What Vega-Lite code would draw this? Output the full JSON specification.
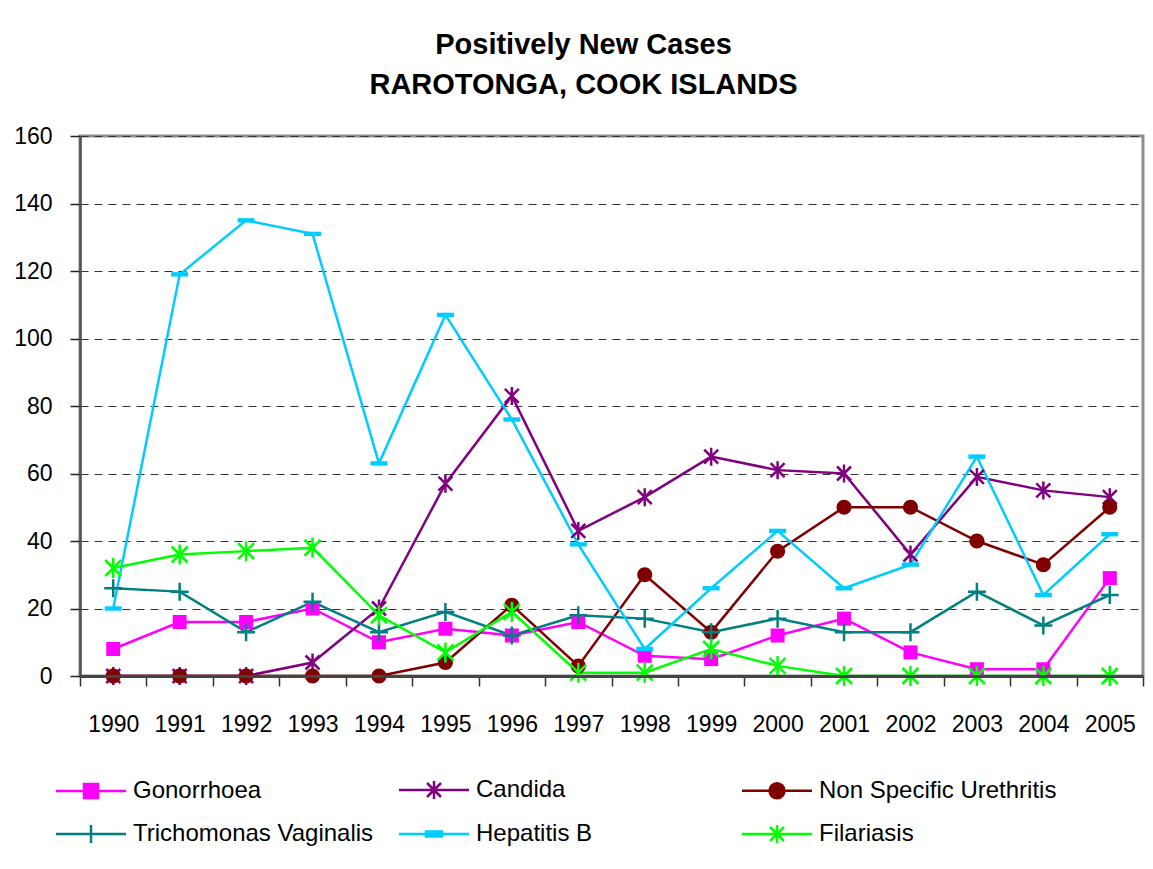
{
  "$schema": "https://vega.github.io/schema/vega-lite/v6.json",
  "autosize": "none",
  "width": 1063,
  "height": 540,
  "padding": {"left": 80, "top": 136, "right": 10, "bottom": 193},
  "background": "white",
  "title": {
    "text": ["Positively New Cases", "RAROTONGA, COOK ISLANDS"],
    "anchor": "middle",
    "frame": "group",
    "dx": -28,
    "offset": 25,
    "font": "Liberation Sans",
    "fontSize": 29,
    "fontWeight": "bold",
    "lineHeight": 40,
    "color": "black"
  },
  "config": {
    "font": "Liberation Sans",
    "view": {"stroke": "#8c8c8c", "strokeWidth": 3}
  },
  "data": {
    "values": [
      {"year": "1990", "series": "Gonorrhoea", "value": 8},
      {"year": "1991", "series": "Gonorrhoea", "value": 16},
      {"year": "1992", "series": "Gonorrhoea", "value": 16},
      {"year": "1993", "series": "Gonorrhoea", "value": 20},
      {"year": "1994", "series": "Gonorrhoea", "value": 10},
      {"year": "1995", "series": "Gonorrhoea", "value": 14},
      {"year": "1996", "series": "Gonorrhoea", "value": 12},
      {"year": "1997", "series": "Gonorrhoea", "value": 16},
      {"year": "1998", "series": "Gonorrhoea", "value": 6},
      {"year": "1999", "series": "Gonorrhoea", "value": 5},
      {"year": "2000", "series": "Gonorrhoea", "value": 12},
      {"year": "2001", "series": "Gonorrhoea", "value": 17},
      {"year": "2002", "series": "Gonorrhoea", "value": 7},
      {"year": "2003", "series": "Gonorrhoea", "value": 2},
      {"year": "2004", "series": "Gonorrhoea", "value": 2},
      {"year": "2005", "series": "Gonorrhoea", "value": 29},
      {"year": "1990", "series": "Candida", "value": 0},
      {"year": "1991", "series": "Candida", "value": 0},
      {"year": "1992", "series": "Candida", "value": 0},
      {"year": "1993", "series": "Candida", "value": 4},
      {"year": "1994", "series": "Candida", "value": 20},
      {"year": "1995", "series": "Candida", "value": 57},
      {"year": "1996", "series": "Candida", "value": 83},
      {"year": "1997", "series": "Candida", "value": 43},
      {"year": "1998", "series": "Candida", "value": 53},
      {"year": "1999", "series": "Candida", "value": 65},
      {"year": "2000", "series": "Candida", "value": 61},
      {"year": "2001", "series": "Candida", "value": 60},
      {"year": "2002", "series": "Candida", "value": 36},
      {"year": "2003", "series": "Candida", "value": 59},
      {"year": "2004", "series": "Candida", "value": 55},
      {"year": "2005", "series": "Candida", "value": 53},
      {"year": "1990", "series": "Non Specific Urethritis", "value": 0},
      {"year": "1991", "series": "Non Specific Urethritis", "value": 0},
      {"year": "1992", "series": "Non Specific Urethritis", "value": 0},
      {"year": "1993", "series": "Non Specific Urethritis", "value": 0},
      {"year": "1994", "series": "Non Specific Urethritis", "value": 0},
      {"year": "1995", "series": "Non Specific Urethritis", "value": 4},
      {"year": "1996", "series": "Non Specific Urethritis", "value": 21},
      {"year": "1997", "series": "Non Specific Urethritis", "value": 3},
      {"year": "1998", "series": "Non Specific Urethritis", "value": 30},
      {"year": "1999", "series": "Non Specific Urethritis", "value": 13},
      {"year": "2000", "series": "Non Specific Urethritis", "value": 37},
      {"year": "2001", "series": "Non Specific Urethritis", "value": 50},
      {"year": "2002", "series": "Non Specific Urethritis", "value": 50},
      {"year": "2003", "series": "Non Specific Urethritis", "value": 40},
      {"year": "2004", "series": "Non Specific Urethritis", "value": 33},
      {"year": "2005", "series": "Non Specific Urethritis", "value": 50},
      {"year": "1990", "series": "Trichomonas Vaginalis", "value": 26},
      {"year": "1991", "series": "Trichomonas Vaginalis", "value": 25},
      {"year": "1992", "series": "Trichomonas Vaginalis", "value": 13},
      {"year": "1993", "series": "Trichomonas Vaginalis", "value": 22},
      {"year": "1994", "series": "Trichomonas Vaginalis", "value": 13},
      {"year": "1995", "series": "Trichomonas Vaginalis", "value": 19},
      {"year": "1996", "series": "Trichomonas Vaginalis", "value": 12},
      {"year": "1997", "series": "Trichomonas Vaginalis", "value": 18},
      {"year": "1998", "series": "Trichomonas Vaginalis", "value": 17},
      {"year": "1999", "series": "Trichomonas Vaginalis", "value": 13},
      {"year": "2000", "series": "Trichomonas Vaginalis", "value": 17},
      {"year": "2001", "series": "Trichomonas Vaginalis", "value": 13},
      {"year": "2002", "series": "Trichomonas Vaginalis", "value": 13},
      {"year": "2003", "series": "Trichomonas Vaginalis", "value": 25},
      {"year": "2004", "series": "Trichomonas Vaginalis", "value": 15},
      {"year": "2005", "series": "Trichomonas Vaginalis", "value": 24},
      {"year": "1990", "series": "Hepatitis B", "value": 20},
      {"year": "1991", "series": "Hepatitis B", "value": 119},
      {"year": "1992", "series": "Hepatitis B", "value": 135},
      {"year": "1993", "series": "Hepatitis B", "value": 131},
      {"year": "1994", "series": "Hepatitis B", "value": 63},
      {"year": "1995", "series": "Hepatitis B", "value": 107},
      {"year": "1996", "series": "Hepatitis B", "value": 76},
      {"year": "1997", "series": "Hepatitis B", "value": 39},
      {"year": "1998", "series": "Hepatitis B", "value": 8},
      {"year": "1999", "series": "Hepatitis B", "value": 26},
      {"year": "2000", "series": "Hepatitis B", "value": 43},
      {"year": "2001", "series": "Hepatitis B", "value": 26},
      {"year": "2002", "series": "Hepatitis B", "value": 33},
      {"year": "2003", "series": "Hepatitis B", "value": 65},
      {"year": "2004", "series": "Hepatitis B", "value": 24},
      {"year": "2005", "series": "Hepatitis B", "value": 42},
      {"year": "1990", "series": "Filariasis", "value": 32},
      {"year": "1991", "series": "Filariasis", "value": 36},
      {"year": "1992", "series": "Filariasis", "value": 37},
      {"year": "1993", "series": "Filariasis", "value": 38},
      {"year": "1994", "series": "Filariasis", "value": 18},
      {"year": "1995", "series": "Filariasis", "value": 7},
      {"year": "1996", "series": "Filariasis", "value": 19},
      {"year": "1997", "series": "Filariasis", "value": 1},
      {"year": "1998", "series": "Filariasis", "value": 1},
      {"year": "1999", "series": "Filariasis", "value": 8},
      {"year": "2000", "series": "Filariasis", "value": 3},
      {"year": "2001", "series": "Filariasis", "value": 0},
      {"year": "2002", "series": "Filariasis", "value": 0},
      {"year": "2003", "series": "Filariasis", "value": 0},
      {"year": "2004", "series": "Filariasis", "value": 0},
      {"year": "2005", "series": "Filariasis", "value": 0}
    ]
  },
  "encoding": {
    "x": {
      "field": "year",
      "type": "ordinal",
      "scale": {"type": "band", "paddingInner": 0, "paddingOuter": 0},
      "axis": {
        "title": null,
        "labelAngle": 0,
        "labelFontSize": 23,
        "labelColor": "black",
        "labelPadding": 27,
        "tickSize": 10,
        "tickBand": "extent",
        "tickColor": "#333",
        "tickWidth": 1.5,
        "domainColor": "#444",
        "domainWidth": 3,
        "grid": false,
        "zindex": 1
      }
    },
    "y": {
      "field": "value",
      "type": "quantitative",
      "scale": {"domain": [0, 160], "nice": false},
      "axis": {
        "title": null,
        "values": [0, 20, 40, 60, 80, 100, 120, 140, 160],
        "labelFontSize": 23,
        "labelColor": "black",
        "labelPadding": 18,
        "tickSize": 10,
        "tickColor": "#222",
        "tickWidth": 1.5,
        "domainColor": "#555",
        "domainWidth": 2.5,
        "grid": true,
        "gridDash": [8, 6],
        "gridColor": "#333",
        "gridWidth": 1.2
      }
    },
    "color": {
      "field": "series",
      "type": "nominal",
      "scale": {
        "domain": ["Gonorrhoea", "Candida", "Non Specific Urethritis", "Trichomonas Vaginalis", "Hepatitis B", "Filariasis"],
        "range": ["#FF00FF", "#800080", "#800000", "#008080", "#00CCFF", "#00FF00"]
      },
      "legend": {
        "title": null,
        "orient": "none",
        "legendX": -1,
        "legendY": 642,
        "direction": "horizontal",
        "columns": 3,
        "gridAlign": "all",
        "columnPadding": 20,
        "rowPadding": 16,
        "symbolSize": 400,
        "symbolStrokeWidth": 2.5,
        "symbolOpacity": 1,
        "labelOffset": 30,
        "labelFontSize": 24,
        "labelColor": "black",
        "labelLimit": 400,
        "encode": {
          "symbols": {
            "update": {
              "shape": {"signal": "datum.value === 'Gonorrhoea' ? 'M-3.5,0L3.5,0M-0.7,-0.7L0.7,-0.7L0.7,0.7L-0.7,0.7Z' : (datum.value === 'Candida' || datum.value === 'Filariasis') ? 'M-3.5,0L3.5,0M-0.7,-0.7L0.7,0.7M-0.7,0.7L0.7,-0.7M0,-0.9L0,0.9' : datum.value === 'Non Specific Urethritis' ? 'M-3.5,0L3.5,0M-0.75,0A0.75,0.75 0 1,0 0.75,0A0.75,0.75 0 1,0 -0.75,0Z' : datum.value === 'Trichomonas Vaginalis' ? 'M-3.5,0L3.5,0M0,-0.9L0,0.9' : 'M-3.5,0L3.5,0M-0.8,-0.25L0.8,-0.25L0.8,0.25L-0.8,0.25Z'"},
              "fill": {"signal": "scale('color', datum.value)"},
              "stroke": {"signal": "scale('color', datum.value)"},
              "strokeWidth": {"value": 2.5},
              "opacity": {"value": 1}
            }
          }
        }
      }
    }
  },
  "layer": [
    {
      "mark": {"type": "line", "strokeWidth": 2.5}
    },
    {
      "transform": [{"filter": "datum.series === 'Gonorrhoea'"}],
      "mark": {"type": "point", "filled": true, "opacity": 1, "size": 400, "strokeWidth": 0, "shape": "M-0.7,-0.7L0.7,-0.7L0.7,0.7L-0.7,0.7Z"}
    },
    {
      "transform": [{"filter": "datum.series === 'Candida'"}],
      "mark": {"type": "point", "filled": false, "opacity": 1, "size": 400, "strokeWidth": 2.5, "shape": "M-0.7,-0.7L0.7,0.7M-0.7,0.7L0.7,-0.7M0,-0.9L0,0.9"}
    },
    {
      "transform": [{"filter": "datum.series === 'Non Specific Urethritis'"}],
      "mark": {"type": "point", "filled": true, "opacity": 1, "size": 400, "strokeWidth": 0, "shape": "M-0.75,0A0.75,0.75 0 1,0 0.75,0A0.75,0.75 0 1,0 -0.75,0Z"}
    },
    {
      "transform": [{"filter": "datum.series === 'Trichomonas Vaginalis'"}],
      "mark": {"type": "point", "filled": false, "opacity": 1, "size": 400, "strokeWidth": 2.5, "shape": "M-0.9,0L0.9,0M0,-0.9L0,0.9"}
    },
    {
      "transform": [{"filter": "datum.series === 'Hepatitis B'"}],
      "mark": {"type": "point", "filled": true, "opacity": 1, "size": 400, "strokeWidth": 0, "shape": "M-0.85,-0.22L0.85,-0.22L0.85,0.22L-0.85,0.22Z"}
    },
    {
      "transform": [{"filter": "datum.series === 'Filariasis'"}],
      "mark": {"type": "point", "filled": false, "opacity": 1, "size": 400, "strokeWidth": 2.5, "shape": "M-0.8,-0.8L0.8,0.8M-0.8,0.8L0.8,-0.8M0,-1L0,1"}
    }
  ]
}
